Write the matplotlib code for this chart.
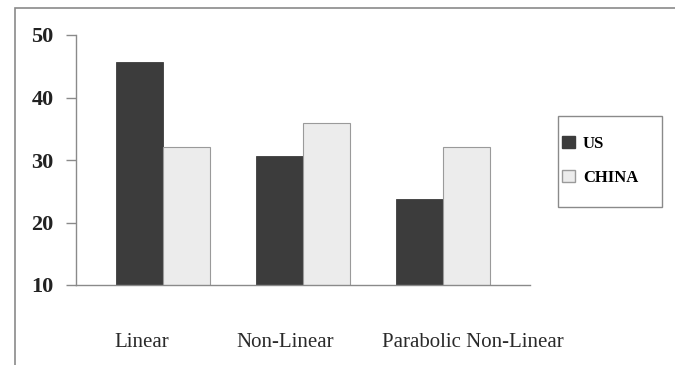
import numpy as np
import matplotlib.pyplot as plt
from matplotlib.patches import Patch, Rectangle

# values
categories = ["Linear", "Non-Linear", "Parabolic Non-Linear"]
us_values = [45.7, 30.7, 23.7]
china_values = [32.1, 35.9, 32.1]
series_names = ["US", "CHINA"]
y_ticks = [10, 20, 30, 40, 50]

W, H = 675, 365
fig = plt.figure(figsize=(W / 100, H / 100), dpi=100)
fig.patch.set_facecolor("white")

# outer frame of the scanned figure (runs off right and bottom edges)
fig.patches.append(Rectangle((15 / W, -0.1), 1.2, 1.1 - 8 / H, transform=fig.transFigure,
                             fill=False, edgecolor="#8a8a8a", linewidth=1.2))

# axes placed by pixel position
ax = fig.add_axes([76 / W, (H - 285) / H, (530 - 76) / W, (285 - 35) / H])
x = np.arange(len(categories))
width = 0.335
ax.bar(x - width / 2, us_values, width, color="#3c3c3c", edgecolor="#3c3c3c", linewidth=0.6)
ax.bar(x + width / 2, china_values, width, color="#ececec", edgecolor="#9a9a9a", linewidth=0.8)

ax.set_ylim(10, 50)
ax.set_xlim(-0.62, 2.62)
ax.set_yticks(y_ticks)
ax.set_yticklabels([str(v) for v in y_ticks], fontfamily="Liberation Serif",
                   fontweight="bold", fontsize=16, color="#222222")
ax.tick_params(axis="y", direction="out", length=7, width=1, color="#8a8a8a", pad=9)

# category labels sit well below the axis, not quite centred on the groups
ax.set_xticks([])
label_shift = [-0.15, -0.13, 0.21]
for xi, name, dx in zip(x, categories, label_shift):
    ax.text(xi + dx, -0.23, name, transform=ax.get_xaxis_transform(), ha="center", va="center",
            fontfamily="Liberation Serif", fontsize=15, color="#2a2a2a")

for side in ["top", "right"]:
    ax.spines[side].set_visible(False)
for side in ["left", "bottom"]:
    ax.spines[side].set_color("#8a8a8a")
    ax.spines[side].set_linewidth(1)

# legend: frame drawn separately so its padding can match
fig.patches.append(Rectangle((558 / W, (H - 207) / H), 104 / W, 91 / H, transform=fig.transFigure,
                             fill=False, edgecolor="#8a8a8a", linewidth=1))
handles = [Patch(facecolor="#3c3c3c", edgecolor="#3c3c3c"),
           Patch(facecolor="#ececec", edgecolor="#9a9a9a")]
fig.legend(handles, series_names, loc="upper left", bbox_to_anchor=(562 / W, (H - 136) / H),
           frameon=False, prop={"family": "Liberation Serif", "weight": "bold", "size": 12},
           handlelength=0.75, handleheight=0.75, handletextpad=0.5, labelspacing=1.05,
           borderpad=0, borderaxespad=0)

fig.savefig("out.png", dpi=100)
